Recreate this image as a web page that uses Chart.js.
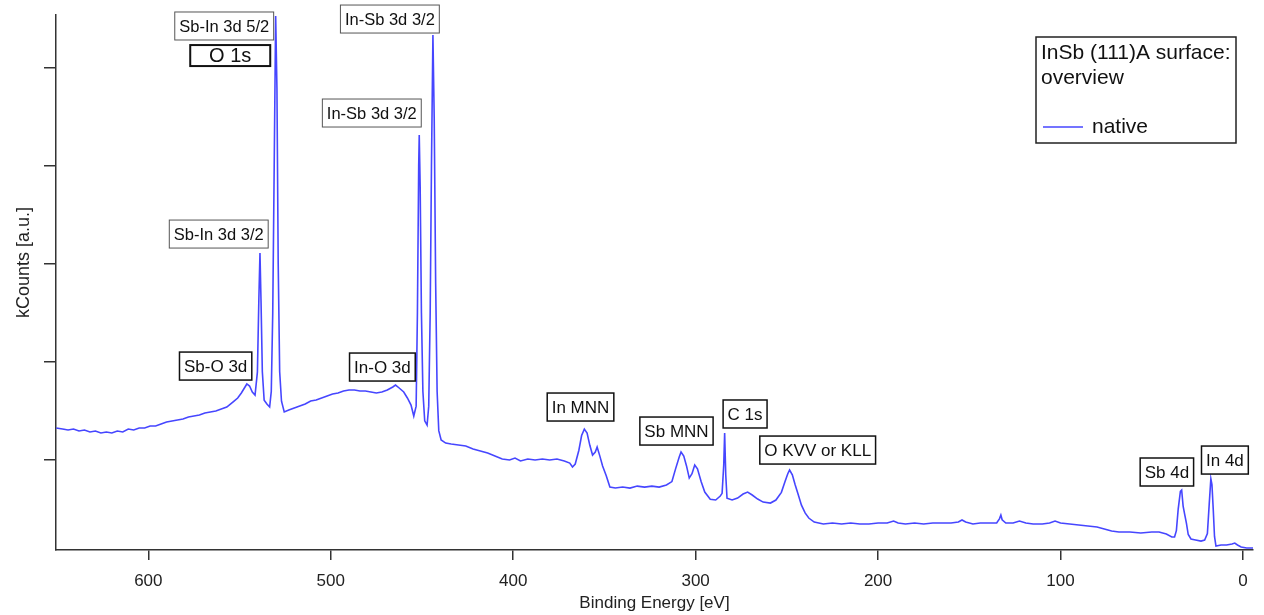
<!DOCTYPE html>
<html lang="en">
<head>
    <meta charset="UTF-8">
    <title>InSb (111)A surface: overview</title>
    <style>
        body {
            margin: 0;
            background: #fff;
        }
        #wrap {
            width: 1264px;
            height: 615px;
        }
    </style>
</head>
<body>
    <div id="wrap">
        <canvas id="xps" width="1264" height="615"></canvas>
    </div>

    <script src="https://cdn.jsdelivr.net/npm/chart.js"></script>
    <script>
        // binding energy [eV] and counts (arbitrary kCounts units)
        const energy = [
            650.5, 647, 644, 641, 638, 635, 632, 629, 626, 623, 620, 617, 614, 611, 608, 605, 602, 599, 596, 593,
            590, 587, 584, 581, 578, 575, 572, 569, 566, 563, 560, 557, 555, 553, 551, 549, 547, 546, 544.5, 543,
            541.5, 540.2, 539.4, 538.8, 538.2, 537.5, 536.5, 535, 533.5, 532.6, 531.8, 531, 530.2, 529.5, 528.8, 528, 527, 525.5, 523, 520,
            517, 514, 511, 508, 505, 502, 499, 496, 493, 490, 487, 484, 481, 478, 475, 472, 469, 466, 464.5, 462.5,
            460, 458, 456, 454.5, 453.2, 452.5, 451.8, 451.5, 451, 450.3, 449.5, 448.5, 447.2, 446.3, 445.5, 444.8, 444, 443.3, 442.5, 441.7,
            440.8, 439.5, 437, 434, 430, 426, 422, 418, 414, 410, 406, 402, 399, 396, 392, 388, 384, 380, 376, 372,
            369, 367.5, 366, 364, 362.5, 361, 359.5, 358, 356.5, 355, 354, 352.5, 351, 349, 347, 344, 340, 336, 332, 328,
            324, 320, 316, 313, 311, 309, 308, 306.5, 305, 303.5, 302, 300.5, 299, 297, 295, 292, 289, 286.5, 285.5, 284.6,
            284.1, 283.5, 282.8, 280, 277, 274, 271.5, 269, 266, 263, 259, 256, 253, 251, 249.5, 248.5, 247, 245.5, 244, 242,
            240, 238, 235, 230, 225, 220, 215, 210, 205, 200, 195, 191.5, 189, 185, 180, 175, 170, 165, 160, 156,
            154, 152, 148, 144, 140, 135, 133.5, 132.7, 132, 130, 126, 122.5, 119, 115, 110, 106, 103, 100, 95, 90,
            85, 80, 76, 72, 68, 62, 56, 50, 46, 42, 39, 37.5, 36.5, 35.5, 34.3, 33.6, 32.8, 32, 31, 30,
            28.5, 26, 23, 21, 19.5, 18.5, 17.6, 17, 16.3, 15.6, 14.8, 12, 9, 6, 4.5, 3, 1, -2, -5.5
        ];
        const counts = [
            3.27, 3.16, 3.06, 3.16, 2.96, 3.06, 2.86, 2.96, 2.76, 2.86, 2.76, 2.96, 2.86, 3.16, 3.06, 3.27, 3.27, 3.47, 3.47, 3.67,
            3.88, 3.98, 4.08, 4.18, 4.39, 4.49, 4.59, 4.80, 4.90, 5.00, 5.20, 5.41, 5.71, 6.02, 6.33, 6.84, 7.45, 7.76, 7.55, 6.94,
            6.63, 9.0, 16.5, 21.12, 16.0, 9.0, 6.1, 5.71, 5.41, 7.0, 15.0, 30.0, 45.3, 38.0, 20.0, 9.0, 6.0, 4.90, 5.10, 5.31,
            5.51, 5.71, 6.02, 6.12, 6.33, 6.53, 6.73, 6.84, 7.04, 7.14, 7.14, 7.04, 7.04, 6.94, 6.84, 6.94, 7.14, 7.45, 7.65, 7.35,
            6.94, 6.33, 5.61, 4.49, 5.5, 15.0, 30.0, 33.16, 28.0, 15.0, 7.0, 4.0, 3.57, 5.5, 15.0, 30.0, 43.37, 35.0, 18.0, 7.0,
            3.0, 2.04, 1.73, 1.63, 1.53, 1.43, 1.12, 0.92, 0.71, 0.41, 0.10, 0.00, 0.20, -0.10, 0.10, 0.00, 0.10, 0.00, 0.10, -0.10,
            -0.31, -0.71, -0.41, 1.0, 2.5, 3.16, 2.76, 1.5, 0.51, 0.82, 1.33, 0.40, -0.6, -1.6, -2.76, -2.86, -2.76, -2.86, -2.66, -2.76,
            -2.66, -2.76, -2.55, -2.20, -0.90, 0.30, 0.82, 0.40, -0.6, -1.84, -1.40, -0.51, -0.90, -2.2, -3.27, -4.0, -4.08, -3.67, -3.4, -0.5,
            2.76, -1.5, -3.9, -4.08, -3.88, -3.47, -3.27, -3.57, -3.98, -4.29, -4.39, -4.08, -3.3, -2.2, -1.4, -1.02, -1.5, -2.5, -3.4, -4.6,
            -5.4, -5.92, -6.33, -6.53, -6.43, -6.53, -6.43, -6.53, -6.53, -6.43, -6.43, -6.22, -6.43, -6.53, -6.43, -6.53, -6.43, -6.43, -6.43, -6.33,
            -6.12, -6.33, -6.53, -6.43, -6.43, -6.43, -6.0, -5.61, -6.1, -6.43, -6.43, -6.22, -6.43, -6.53, -6.53, -6.43, -6.22, -6.43, -6.53, -6.63,
            -6.73, -6.84, -7.04, -7.25, -7.35, -7.35, -7.45, -7.35, -7.35, -7.55, -7.86, -7.86, -7.2, -5.0, -3.2, -3.06, -4.7, -5.5, -6.43, -7.6,
            -8.06, -8.16, -8.27, -8.17, -7.5, -4.5, -1.9, -2.5, -5.0, -7.8, -8.78, -8.67, -8.67, -8.57, -8.47, -8.67, -8.88, -8.98, -8.98
        ];

        const xTicks = [0, 100, 200, 300, 400, 500, 600];
        const yTicks = [0, 10, 20, 30, 40];

        // peak labels: text, box centre [eV], box bottom [counts], frame kind
        const peakText = ['Sb-In 3d 5/2', 'O 1s', 'Sb-In 3d 3/2', 'In-Sb 3d 3/2', 'In-Sb 3d 3/2', 'Sb-O 3d', 'In-O 3d',
            'In MNN', 'Sb MNN', 'C 1s', 'O KVV or KLL', 'Sb 4d', 'In 4d'];
        const peakEv = [558.4, 555.1, 561.4, 467.6, 477.5, 563.1, 471.7, 363.1, 310.5, 272.9, 233.1, 41.7, 9.9];
        const peakTop = [42.86, 40.2, 21.63, 43.57, 33.98, 8.16, 8.06, 3.98, 1.53, 3.27, -0.41, -2.65, -1.43];
        const peakFrame = ['thin', 'thick', 'thin', 'thin', 'thin', 'norm', 'norm', 'norm', 'norm', 'norm', 'norm', 'norm', 'norm'];

        const FONT = '"Liberation Sans", Arial, sans-serif';
        const lineColor = '#4646ff';
        const axisColor = '#333';

        const overlay = {
            id: 'overlay',
            afterDraw(chart) {
                const c = chart.ctx;
                const xs = chart.scales.x, ys = chart.scales.y;
                const a = chart.chartArea;
                c.save();
                c.textBaseline = 'middle';
                c.textAlign = 'center';
                peakText.forEach((t, i) => {
                    const cx = xs.getPixelForValue(peakEv[i]);
                    const bottom = ys.getPixelForValue(peakTop[i]);
                    const kind = peakFrame[i];
                    c.font = (kind === 'thick' ? '20px ' : (kind === 'thin' ? '16.5px ' : '17px ')) + FONT;
                    let w = c.measureText(t).width + 9;
                    let h = kind === 'thick' ? 21 : 28;
                    if (kind === 'thick') w = 80;
                    c.fillStyle = '#fff';
                    c.fillRect(cx - w / 2, bottom - h, w, h);
                    c.lineWidth = kind === 'thick' ? 2 : (kind === 'thin' ? 1 : 1.5);
                    c.strokeStyle = kind === 'thin' ? '#555' : '#111';
                    c.strokeRect(cx - w / 2, bottom - h, w, h);
                    c.fillStyle = '#111';
                    c.fillText(t, cx, bottom - h / 2 + 1);
                });

                // y axis title, drawn by hand to sit a bit above the axis middle
                c.save();
                c.translate(24, (a.top + a.bottom) / 2 - 20);
                c.rotate(-Math.PI / 2);
                c.font = '18px ' + FONT;
                c.fillStyle = '#222';
                c.fillText('kCounts [a.u.]', 0, 0);
                c.restore();

                // legend box
                const lx = a.right - 217, ly = a.top + 22;
                c.lineWidth = 1.5;
                c.strokeStyle = '#222';
                c.strokeRect(lx, ly, 200, 106);
                c.textAlign = 'left';
                c.font = '21px ' + FONT;
                c.fillStyle = '#111';
                c.fillText('InSb (111)A surface:', lx + 5, ly + 16);
                c.fillText('overview', lx + 5, ly + 41);
                c.fillText(chart.data.datasets[0].label, lx + 56, ly + 90);
                c.strokeStyle = lineColor;
                c.lineWidth = 1.5;
                c.beginPath();
                c.moveTo(lx + 7, ly + 90);
                c.lineTo(lx + 47, ly + 90);
                c.stroke();
                c.restore();
            }
        };

        const ctx = document.getElementById('xps').getContext('2d');
        const chart = new Chart(ctx, {
            type: 'line',
            data: {
                datasets: [{
                    label: 'native',
                    data: energy.map((e, i) => ({ x: e, y: counts[i] })),
                    borderColor: lineColor,
                    borderWidth: 1.6,
                    pointRadius: 0,
                    tension: 0,
                    fill: false
                }]
            },
            options: {
                responsive: false,
                animation: false,
                layout: { padding: { top: 15, right: 11, left: 0, bottom: 0 } },
                plugins: {
                    legend: { display: false },
                    tooltip: { enabled: false }
                },
                scales: {
                    x: {
                        type: 'linear',
                        reverse: true,
                        min: -5.5,
                        max: 650.6,
                        afterBuildTicks: s => { s.ticks = xTicks.map(v => ({ value: v })); },
                        afterFit: s => { s.height = 65; },
                        border: { color: axisColor, width: 1.5 },
                        grid: { drawOnChartArea: false, drawTicks: true, tickLength: 10, color: axisColor, lineWidth: 1.5 },
                        ticks: { color: '#222', font: { size: 17, family: FONT }, padding: 11, maxRotation: 0 },
                        title: { display: true, text: 'Binding Energy [eV]', color: '#222', font: { size: 17, family: FONT }, padding: { top: 0, bottom: 1 } }
                    },
                    y: {
                        min: -9.18,
                        max: 45.41,
                        afterBuildTicks: s => { s.ticks = yTicks.map(v => ({ value: v })); },
                        afterFit: s => { s.width = 56; },
                        border: { color: axisColor, width: 1.5 },
                        grid: { drawOnChartArea: false, drawTicks: true, tickLength: 12, color: axisColor, lineWidth: 1.5 },
                        ticks: { display: false },
                        title: { display: false }
                    }
                }
            },
            plugins: [overlay]
        });
    </script>
</body>
</html>
